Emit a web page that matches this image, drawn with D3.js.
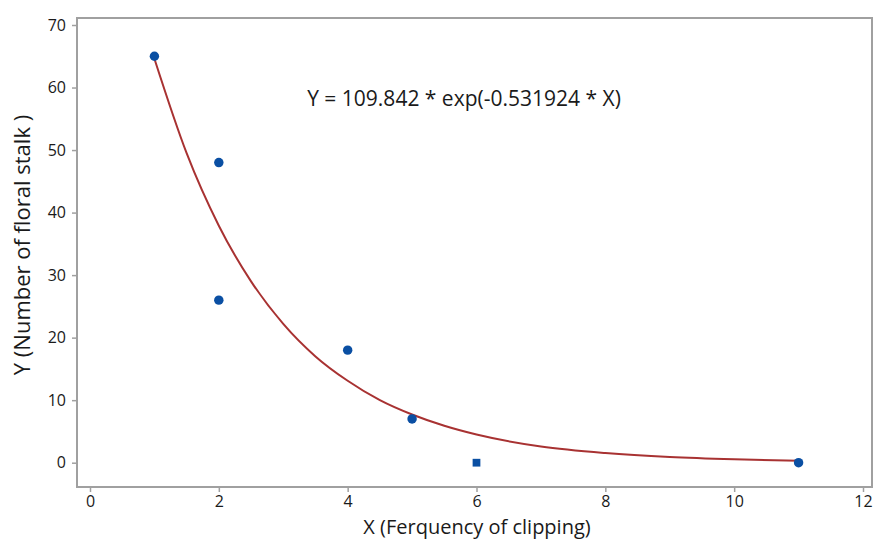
<!DOCTYPE html>
<html>
<head>
<meta charset="utf-8">
<script src="https://cdn.jsdelivr.net/npm/d3@7"></script>
<style>
  body { margin: 0; background: #fff; }
  svg text { font-family: "Open Sans", "Noto Sans", sans-serif; fill: #1a1a1a; }
</style>
</head>
<body>
<div id="chart"></div>
<script>
// observed points
const xValues = [1, 2, 2, 4, 5, 6, 11];
const yValues = [65, 48, 26, 18, 7, 0, 0];
const pointShapes = ['circle', 'circle', 'circle', 'circle', 'circle', 'square', 'circle'];

// fitted curve
const fitX = [1, 1.5, 2, 2.5, 3, 3.5, 4, 4.5, 5, 5.5, 6, 7, 8, 9, 10, 11];
const fitY = [64.6, 49.5, 37.9, 29.0, 22.2, 17.0, 13.1, 10.0, 7.7, 5.9, 4.5, 2.6, 1.55, 0.91, 0.54, 0.31];

const xTicks = [0, 2, 4, 6, 8, 10, 12];
const yTicks = [0, 10, 20, 30, 40, 50, 60, 70];
const equationLabel = 'Y = 109.842 * exp(-0.531924 * X)';
const xTitle = 'X (Ferquency of clipping)';
const yTitle = 'Y (Number of floral stalk )';

const width = 874, height = 542;
const frame = { left: 77, top: 18, right: 872, bottom: 487 };

const svg = d3.select('#chart').append('svg')
    .attr('width', width)
    .attr('height', height);

const x = d3.scaleLinear().domain([0, 12]).range([90, 863]);
const y = d3.scaleLinear().domain([0, 70]).range([462.7, 25]);

// frame
svg.append('rect')
    .attr('x', frame.left).attr('y', frame.top)
    .attr('width', frame.right - frame.left)
    .attr('height', frame.bottom - frame.top)
    .attr('fill', 'none')
    .attr('stroke', '#a0a0a0')
    .attr('stroke-width', 2);

// x axis
const xAxis = svg.append('g')
    .attr('transform', `translate(0,${frame.bottom})`)
    .call(d3.axisBottom(x).tickValues(xTicks).tickSize(5).tickPadding(4).tickFormat(d3.format('d')));
xAxis.select('.domain').remove();
xAxis.selectAll('line').attr('stroke', '#a0a0a0').attr('stroke-width', 1.5);
xAxis.selectAll('text').style('font-size', '16px').attr('fill', '#222');

// y axis
const yAxis = svg.append('g')
    .attr('transform', `translate(${frame.left},0)`)
    .call(d3.axisLeft(y).tickValues(yTicks).tickSize(5).tickPadding(6).tickFormat(d3.format('d')));
yAxis.select('.domain').remove();
yAxis.selectAll('line').attr('stroke', '#a0a0a0').attr('stroke-width', 1.5);
yAxis.selectAll('text').style('font-size', '16px').attr('fill', '#222');

// fitted line
const fitData = fitX.map((d, i) => ({ x: d, y: fitY[i] }));
const line = d3.line()
    .x(d => x(d.x))
    .y(d => y(d.y))
    .curve(d3.curveMonotoneX);

svg.append('path')
    .datum(fitData)
    .attr('d', line)
    .attr('fill', 'none')
    .attr('stroke', '#a83232')
    .attr('stroke-width', 2);

// points
const points = xValues.map((d, i) => ({ x: d, y: yValues[i], shape: pointShapes[i] }));
svg.append('g').selectAll('path')
    .data(points)
    .join('path')
    .attr('transform', d => `translate(${x(d.x)},${y(d.y)})`)
    .attr('d', d => d3.symbol()
        .type(d.shape === 'square' ? d3.symbolSquare : d3.symbolCircle)
        .size(d.shape === 'square' ? 60 : 70)())
    .attr('fill', '#0a4fa3');

// equation
svg.append('text')
    .attr('x', 464)
    .attr('y', 106)
    .attr('text-anchor', 'middle')
    .style('font-size', '21px')
    .text(equationLabel);

// axis titles
svg.append('text')
    .attr('x', 477)
    .attr('y', 534)
    .attr('text-anchor', 'middle')
    .style('font-size', '20px')
    .attr('fill', '#222')
    .text(xTitle);

svg.append('text')
    .attr('transform', 'translate(30,245) rotate(-90)')
    .attr('text-anchor', 'middle')
    .style('font-size', '22px')
    .attr('fill', '#222')
    .text(yTitle);
</script>
</body>
</html>
